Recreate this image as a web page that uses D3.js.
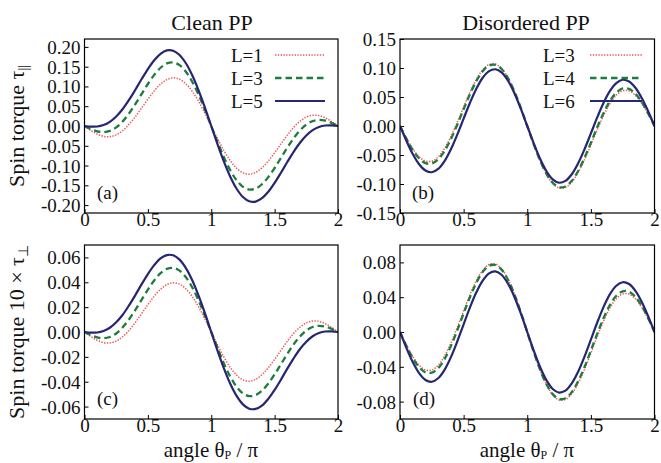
<!DOCTYPE html>
<html><head><meta charset="utf-8">
<script src="https://cdn.jsdelivr.net/npm/d3@7"></script>
<style>html,body{margin:0;padding:0;background:#fff;}svg{display:block;}text{font-family:"Liberation Serif","Times New Roman",serif;fill:#111;}</style>
</head><body>
<svg id="chart" width="661" height="463"></svg>
<script>
// angle theta_P / pi sampled every 0.05
const theta = d3.range(41).map(i => +(i * 0.05).toFixed(2));
const xTicks = [0, 0.5, 1, 1.5, 2];
const xTickLabels = ["0", "0.5", "1", "1.5", "2"];

// (a) Clean PP, tau_parallel
const cleanParL1 = [0,-0.0112,-0.0204,-0.0262,-0.0271,-0.0225,-0.0121,0.0035,0.0231,0.0452,0.0678,0.0887,0.1059,0.1174,0.1218,0.1183,0.1068,0.0877,0.0623,0.0324,0,-0.0324,-0.0623,-0.0877,-0.1068,-0.1183,-0.1218,-0.1174,-0.1059,-0.0887,-0.0678,-0.0452,-0.0231,-0.0035,0.0121,0.0225,0.0271,0.0262,0.0204,0.0112,0];
const cleanParL3 = [0,-0.0077,-0.0134,-0.0155,-0.0124,-0.0036,0.0111,0.0310,0.0548,0.0806,0.1062,0.1292,0.1473,0.1583,0.1608,0.1538,0.1373,0.1119,0.0791,0.0409,0,-0.0409,-0.0791,-0.1119,-0.1373,-0.1538,-0.1608,-0.1583,-0.1473,-0.1292,-0.1062,-0.0806,-0.0548,-0.0310,-0.0111,0.0036,0.0124,0.0155,0.0134,0.0077,0];
const cleanParL5 = [0,-0.0015,-0.0013,0.0024,0.0106,0.0240,0.0424,0.0653,0.0911,0.1181,0.1439,0.1662,0.1826,0.1912,0.1904,0.1796,0.1586,0.1283,0.0902,0.0466,0,-0.0466,-0.0902,-0.1283,-0.1586,-0.1796,-0.1904,-0.1912,-0.1826,-0.1662,-0.1439,-0.1181,-0.0911,-0.0653,-0.0424,-0.0240,-0.0106,-0.0024,0.0013,0.0015,0];

// (b) Disordered PP, tau_parallel
const disParL3 = [0,-0.0208,-0.0391,-0.0529,-0.0605,-0.0607,-0.0532,-0.0387,-0.0182,0.0063,0.0326,0.0581,0.0802,0.0968,0.1060,0.1068,0.0988,0.0825,0.0593,0.0310,0,-0.0310,-0.0593,-0.0825,-0.0988,-0.1068,-0.1060,-0.0968,-0.0802,-0.0581,-0.0326,-0.0063,0.0182,0.0387,0.0532,0.0607,0.0605,0.0529,0.0391,0.0208,0];
const disParL4 = [0,-0.0218,-0.0411,-0.0557,-0.0640,-0.0647,-0.0576,-0.0431,-0.0225,0.0022,0.0289,0.0548,0.0775,0.0946,0.1043,0.1055,0.0979,0.0820,0.0590,0.0308,0,-0.0308,-0.0590,-0.0820,-0.0979,-0.1055,-0.1043,-0.0946,-0.0775,-0.0548,-0.0289,-0.0022,0.0225,0.0431,0.0576,0.0647,0.0640,0.0557,0.0411,0.0218,0];
const disParL6 = [0,-0.0254,-0.0482,-0.0660,-0.0768,-0.0797,-0.0740,-0.0604,-0.0400,-0.0148,0.0128,0.0401,0.0643,0.0832,0.0947,0.0978,0.0919,0.0776,0.0561,0.0294,0,-0.0294,-0.0561,-0.0776,-0.0919,-0.0978,-0.0947,-0.0832,-0.0643,-0.0401,-0.0128,0.0148,0.0400,0.0604,0.0740,0.0797,0.0768,0.0660,0.0482,0.0254,0];

// (c) Clean PP, 10 x tau_perp
const cleanPerpL1 = [0,-0.0036,-0.0066,-0.0085,-0.0088,-0.0073,-0.0039,0.0011,0.0075,0.0147,0.0220,0.0288,0.0344,0.0381,0.0396,0.0385,0.0347,0.0285,0.0203,0.0105,0,-0.0105,-0.0203,-0.0285,-0.0347,-0.0385,-0.0396,-0.0381,-0.0344,-0.0288,-0.0220,-0.0147,-0.0075,-0.0011,0.0039,0.0073,0.0088,0.0085,0.0066,0.0036,0];
const cleanPerpL3 = [0,-0.0025,-0.0043,-0.0050,-0.0040,-0.0012,0.0036,0.0099,0.0176,0.0259,0.0341,0.0415,0.0473,0.0508,0.0516,0.0494,0.0441,0.0359,0.0254,0.0131,0,-0.0131,-0.0254,-0.0359,-0.0441,-0.0494,-0.0516,-0.0508,-0.0473,-0.0415,-0.0341,-0.0259,-0.0176,-0.0099,-0.0036,0.0012,0.0040,0.0050,0.0043,0.0025,0];
const cleanPerpL5 = [0,-0.0005,-0.0004,0.0008,0.0034,0.0078,0.0137,0.0212,0.0295,0.0383,0.0466,0.0538,0.0592,0.0619,0.0617,0.0582,0.0514,0.0416,0.0292,0.0151,0,-0.0151,-0.0292,-0.0416,-0.0514,-0.0582,-0.0617,-0.0619,-0.0592,-0.0538,-0.0466,-0.0383,-0.0295,-0.0212,-0.0137,-0.0078,-0.0034,-0.0008,0.0004,0.0005,0];

// (d) Disordered PP, 10 x tau_perp
const disPerpL3 = [0,-0.0150,-0.0283,-0.0382,-0.0436,-0.0437,-0.0383,-0.0276,-0.0127,0.0052,0.0243,0.0428,0.0589,0.0709,0.0776,0.0781,0.0722,0.0603,0.0433,0.0226,0,-0.0226,-0.0433,-0.0603,-0.0722,-0.0781,-0.0776,-0.0709,-0.0589,-0.0428,-0.0243,-0.0052,0.0127,0.0276,0.0383,0.0437,0.0436,0.0382,0.0283,0.0150,0];
const disPerpL4 = [0,-0.0158,-0.0298,-0.0404,-0.0464,-0.0468,-0.0416,-0.0311,-0.0161,0.0019,0.0213,0.0402,0.0566,0.0691,0.0761,0.0770,0.0714,0.0598,0.0430,0.0225,0,-0.0225,-0.0430,-0.0598,-0.0714,-0.0770,-0.0761,-0.0691,-0.0566,-0.0402,-0.0213,-0.0019,0.0161,0.0311,0.0416,0.0468,0.0464,0.0404,0.0298,0.0158,0];
const disPerpL6 = [0,-0.0182,-0.0346,-0.0473,-0.0551,-0.0572,-0.0532,-0.0435,-0.0289,-0.0109,0.0088,0.0283,0.0456,0.0591,0.0674,0.0696,0.0655,0.0553,0.0400,0.0210,0,-0.0210,-0.0400,-0.0553,-0.0655,-0.0696,-0.0674,-0.0591,-0.0456,-0.0283,-0.0088,0.0109,0.0289,0.0435,0.0532,0.0572,0.0551,0.0473,0.0346,0.0182,0];

const yTicksA = [0.20,0.15,0.10,0.05,0,-0.05,-0.10,-0.15,-0.20];
const yTicksB = [0.15,0.10,0.05,0,-0.05,-0.10,-0.15];
const yTicksC = [0.06,0.04,0.02,0,-0.02,-0.04,-0.06];
const yTicksD = [0.08,0.04,0,-0.04,-0.08];

const legendClean = ["L=1","L=3","L=5"];
const legendDis = ["L=3","L=4","L=6"];

const styles = [
  {stroke:"#ee5a5a", width:1.5, dash:"1.4,1.4"},
  {stroke:"#1e7d3c", width:2.3, dash:"6.5,4"},
  {stroke:"#262673", width:2.2, dash:null}
];

const panels = [
  {id:"a", x0:84.5, x1:338, y0:39, y1:213, dom:[-0.22,0.22], ticks:yTicksA, series:[cleanParL1,cleanParL3,cleanParL5], legend:legendClean, lx:231, llx:[275,325], lab:"(a)", labx:97},
  {id:"b", x0:400, x1:654.5, y0:39, y1:213, dom:[-0.15,0.15], ticks:yTicksB, series:[disParL3,disParL4,disParL6], legend:legendDis, lx:543, llx:[590,642], lab:"(b)", labx:412},
  {id:"c", x0:84.5, x1:338, y0:245, y1:419, dom:[-0.07,0.07], ticks:yTicksC, series:[cleanPerpL1,cleanPerpL3,cleanPerpL5], legend:null, lab:"(c)", labx:97},
  {id:"d", x0:400, x1:654.5, y0:245, y1:419, dom:[-0.1,0.1], ticks:yTicksD, series:[disPerpL3,disPerpL4,disPerpL6], legend:null, lab:"(d)", labx:413}
];

const svg = d3.select("#chart");
svg.append("rect").attr("width",661).attr("height",463).attr("fill","#fff");
const defs = svg.append("defs");
const fmt = d3.format(".2f");

panels.forEach(p => {
  const x = d3.scaleLinear().domain([0,2]).range([p.x0,p.x1]);
  const y = d3.scaleLinear().domain(p.dom).range([p.y1,p.y0]);
  defs.append("clipPath").attr("id","clip"+p.id).append("rect")
    .attr("x",p.x0).attr("y",p.y0).attr("width",p.x1-p.x0).attr("height",p.y1-p.y0);
  const g = svg.append("g");

  // y axis
  const ya = g.append("g").attr("transform",`translate(${p.x0},0)`)
    .call(d3.axisLeft(y).tickValues(p.ticks).tickSize(-4).tickPadding(4).tickFormat(d => fmt(d).replace("−","-")));
  ya.select(".domain").remove();
  ya.selectAll("line").attr("stroke","#000").attr("stroke-width",1);
  ya.selectAll("text").attr("font-size",19).attr("fill","#111").attr("dy","0.34em");

  // x axis
  const xa = g.append("g").attr("transform",`translate(0,${p.y1})`)
    .call(d3.axisBottom(x).tickValues(xTicks).tickSize(-4).tickPadding(1).tickFormat((d,i) => xTickLabels[i]));
  xa.select(".domain").remove();
  xa.selectAll("line").attr("stroke","#000").attr("stroke-width",1);
  xa.selectAll("text").attr("font-size",19).attr("fill","#111").attr("dy","0.64em");

  // curves
  const line = d3.line().x((d,i) => x(theta[i])).y(d => y(d)).curve(d3.curveCatmullRom);
  const cg = g.append("g").attr("clip-path",`url(#clip${p.id})`);
  p.series.forEach((s,k) => {
    cg.append("path").datum(s).attr("d",line).attr("fill","none")
      .attr("stroke",styles[k].stroke).attr("stroke-width",styles[k].width)
      .attr("stroke-dasharray",styles[k].dash).attr("stroke-linejoin","round");
  });

  // frame
  g.append("rect").attr("x",p.x0).attr("y",p.y0).attr("width",p.x1-p.x0).attr("height",p.y1-p.y0)
    .attr("fill","none").attr("stroke","#000").attr("stroke-width",1.2);

  // panel label
  g.append("text").attr("x",p.labx).attr("y",p.y1-14).attr("font-size",19).text(p.lab);

  // legend
  if (p.legend) {
    p.legend.forEach((t,k) => {
      const yy = 55 + k*23;
      g.append("text").attr("x",p.lx).attr("y",yy+6.5).attr("font-size",19).text(t);
      g.append("line").attr("x1",p.llx[0]).attr("x2",p.llx[1]).attr("y1",yy).attr("y2",yy)
        .attr("stroke",styles[k].stroke).attr("stroke-width",styles[k].width)
        .attr("stroke-dasharray",styles[k].dash);
    });
  }
});

// titles
svg.append("text").attr("x",212).attr("y",30).attr("text-anchor","middle").attr("font-size",22).text("Clean PP");
svg.append("text").attr("x",526).attr("y",30).attr("text-anchor","middle").attr("font-size",22).text("Disordered PP");

// x labels
[211, 527].forEach(cx => {
  const t = svg.append("text").attr("x",cx).attr("y",456.5).attr("text-anchor","middle").attr("font-size",21);
  t.append("tspan").text("angle  θ");
  t.append("tspan").attr("font-size",12).attr("dy",2.5).text("P");
  t.append("tspan").attr("dy",-2.5).text(" / π");
});

// y labels
const yl1 = svg.append("text").attr("transform","translate(24,126) rotate(-90)").attr("text-anchor","middle").attr("font-size",22);
yl1.append("tspan").text("Spin torque   τ");
yl1.append("tspan").attr("font-size",14).attr("dy",4).text("||");
const yl2 = svg.append("text").attr("transform","translate(24,332) rotate(-90)").attr("text-anchor","middle").attr("font-size",22);
yl2.append("tspan").text("Spin torque  10 × τ");
yl2.append("tspan").attr("font-size",14).attr("dy",4).text("⊥");
</script>
</body></html>
